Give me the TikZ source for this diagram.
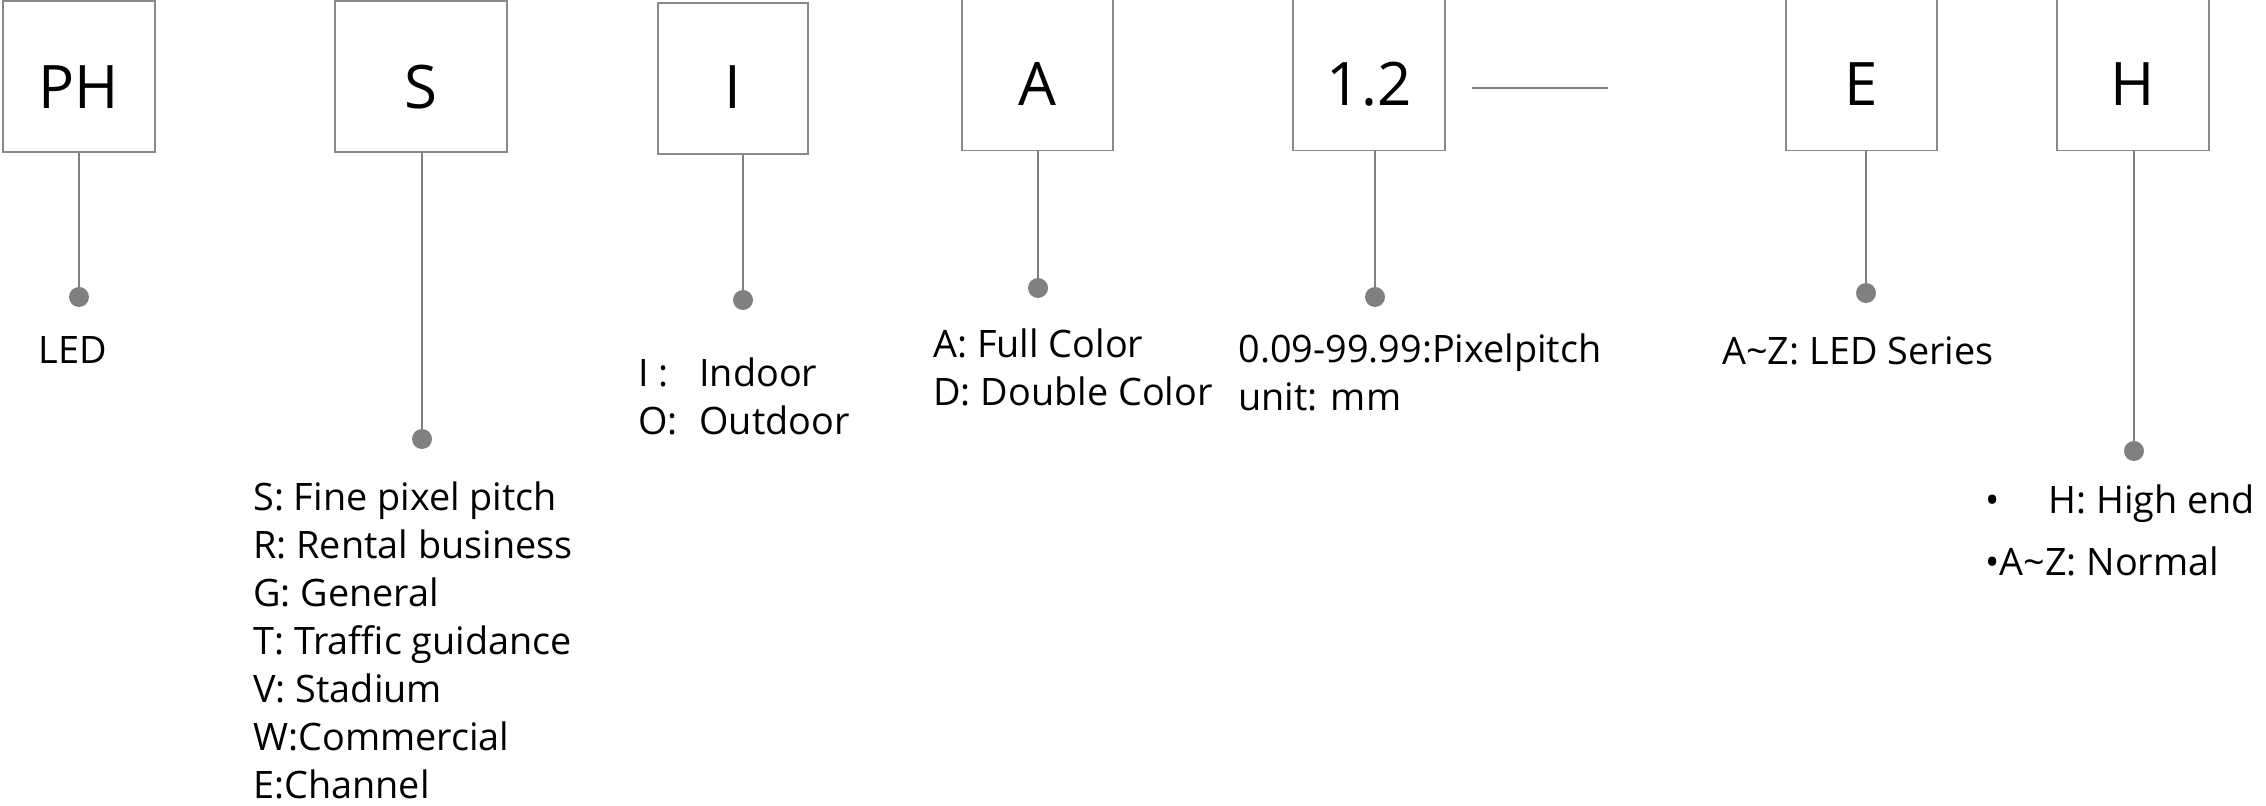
\documentclass[tikz,border=0pt]{standalone}
\usepackage{fontspec}
\setmainfont{Open Sans}
\usetikzlibrary{positioning}
\definecolor{framegray}{RGB}{137,137,137}
\definecolor{stemgray}{RGB}{128,128,128}
\newcommand{\labelfont}{\fontsize{18.9pt}{24pt}\selectfont}
\newcommand{\codefont}{\fontsize{30pt}{36pt}\selectfont}

\begin{document}
\begin{tikzpicture}[x=0.5pt, y=-0.5pt,
  box/.style={draw=framegray, line width=0.7pt, minimum height=75.5pt, inner sep=0pt},
  code/.style={font=\codefont, inner sep=0pt},
  stem/.style={draw=stemgray, line width=0.75pt},
  dot/.style={circle, fill=stemgray, minimum size=10pt, inner sep=0pt},
  desc/.style={font=\labelfont, align=left, anchor=north west, inner sep=0pt}]
  \useasboundingbox (0,0) rectangle (2266,806);
  % code boxes, stems and dots
  \foreach \id/\txt/\cx/\cy/\w/\ty/\lx/\dy in {
      ph/PH/79/76.5/152/87/79/297,
      s/S/421/76.5/172/87/422/439,
      i/I/733/78.5/150/87/743/300,
      a/A/1037.5/75/151/84/1038/288,
      px/1.2/1369/75/152/84/1375/297,
      e/E/1861.5/75/151/84/1866/293,
      h/H/2133/75/152/84/2134/451}{
    \node[box, minimum width=\w*0.5pt] (\id) at (\cx,\cy) {};
    \node[code] (\id-t) at (\cx,\ty) {\txt};
    \node[dot] (\id-d) at (\lx,\dy) {};
    \draw[stem] (\id-d) -- (\id-d |- \id.south);
  }
  % short line after the pitch box
  \coordinate (dash-l) at (1472,88);
  \coordinate (dash-r) at (1608,88);
  \draw[stem] (dash-l) -- (dash-r);
  % descriptions
  \node[desc] (ph-l) at (38,336) {LED};
  \node[desc] (s-l) at (253,481) {S: Fine pixel pitch\\R: Rental business\\G: General\\T: Traffic guidance\\V: Stadium\\W:Commercial\\E:Channel};
  \node[desc] (i-l) at (638,357) {\makebox[30.5pt][l]{I :}Indoor\\\makebox[30.5pt][l]{O:}Outdoor};
  \node[desc] (a-l) at (933,328) {A: Full Color\\D: Double Color};
  \node[desc] (px-l) at (1238,333) {0.09-99.99:Pixelpitch\\unit: mm};
  \node[desc] (e-l) at (1722,336) {A\textasciitilde Z: LED Series};
  \node[desc] (h-l) at (1985,484) {\makebox[31.5pt][l]{•}H: High end\\[7pt]•A\textasciitilde Z: Normal};
\end{tikzpicture}
\end{document}
